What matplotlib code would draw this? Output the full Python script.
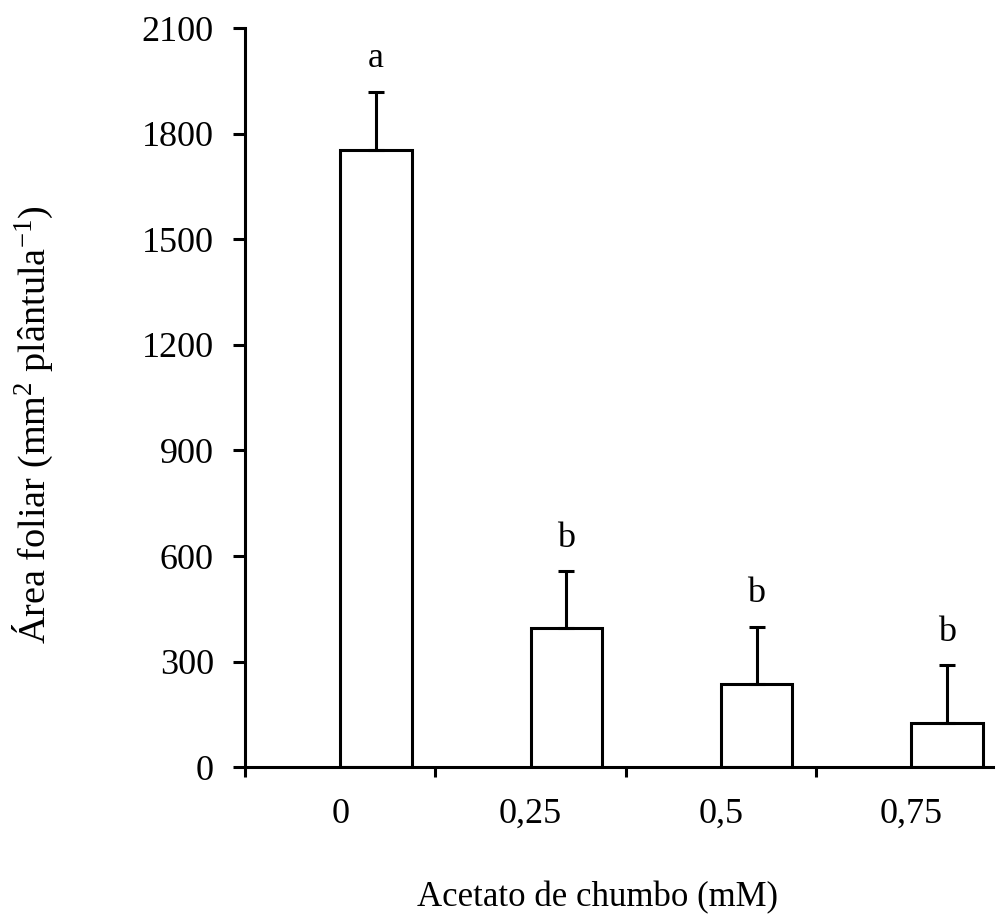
import matplotlib
matplotlib.use("Agg")
import matplotlib.pyplot as plt
from matplotlib.ticker import FixedLocator, NullFormatter

categories = ["0", "0,25", "0,5", "0,75"]
values = [1755, 395, 237, 125]
errors = [163, 162, 162, 165]
letters = ["a", "b", "b", "b"]
yticks = [0, 300, 600, 900, 1200, 1500, 1800, 2100]

plt.rcParams['font.family'] = ['Liberation Serif', 'DejaVu Serif']
plt.rcParams['mathtext.fontset'] = 'custom'
plt.rcParams['mathtext.rm'] = 'Liberation Serif'
plt.rcParams['mathtext.it'] = 'Liberation Serif:italic'

fig = plt.figure(figsize=(9.96, 9.24), dpi=100)
ax = fig.add_axes([0.246, 0.1696, 0.751, 0.800])

lw = 2.2
fs = 26
x = list(range(len(categories)))
bw = 0.375
ax.bar(x, values, width=bw, align='edge', color='white', edgecolor='black',
       linewidth=lw, zorder=2)
centers = [xi + bw / 2 for xi in x]
ax.errorbar(centers, values, yerr=[[0] * len(errors), errors], fmt='none',
            ecolor='black', elinewidth=lw, capsize=6, capthick=lw, zorder=3)
for c, v, e, l in zip(centers, values, errors, letters):
    ax.annotate(l, (c, v + e), xytext=(0, 12), textcoords='offset points',
                ha='center', va='bottom', fontsize=fs)

ax.set_xlim(-0.5, 3.43)
ax.set_ylim(0, 2100)
ax.set_yticks(yticks)
ax.set_yticklabels([str(t) for t in yticks], fontsize=fs)

ax.xaxis.set_major_locator(FixedLocator([-0.5, 0.5, 1.5, 2.5]))
ax.xaxis.set_major_formatter(NullFormatter())
ax.xaxis.set_minor_locator(FixedLocator(x))
ax.set_xticklabels(categories, minor=True, fontsize=fs)
ax.tick_params(axis='x', which='major', direction='out', length=7, width=lw)
ax.tick_params(axis='x', which='minor', length=0, pad=22)
ax.tick_params(axis='y', direction='out', length=8.5, width=lw, pad=14)

for s in ['top', 'right']:
    ax.spines[s].set_visible(False)
for s in ['left', 'bottom']:
    ax.spines[s].set_linewidth(lw)

ax.set_ylabel('Área foliar (mm$^{2}$ plântula$^{-1}$)', fontsize=27.5, va='center')
ax.yaxis.set_label_coords(-0.283, 0.463)
ax.set_xlabel('Acetato de chumbo (mM)', fontsize=25, va='center')
ax.xaxis.set_label_coords(0.471, -0.177)

fig.savefig('out.png', dpi=100)
